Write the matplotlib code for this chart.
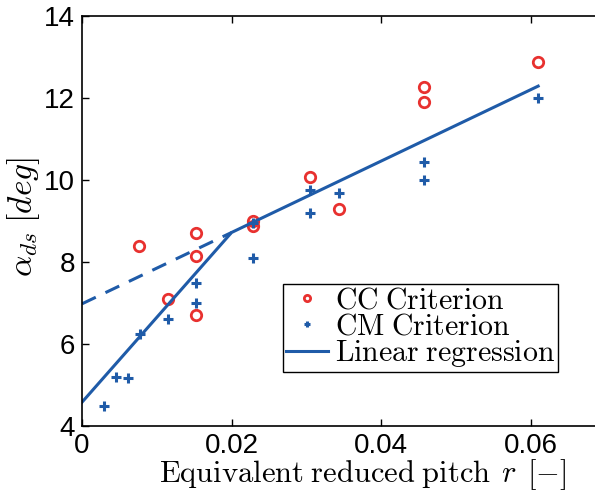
import matplotlib
matplotlib.use("Agg")
import matplotlib.pyplot as plt

plt.rcParams["mathtext.fontset"] = "cm"
plt.rcParams["font.family"] = ["Liberation Sans", "DejaVu Sans"]

# ===== data =====
cc_x = [0.0076, 0.0115, 0.0152, 0.0152, 0.0152, 0.0229, 0.0229,
        0.0305, 0.0343, 0.0457, 0.0457, 0.0610]
cc_y = [8.40, 7.10, 8.70, 8.15, 6.70, 9.01, 8.88,
        10.08, 9.29, 12.26, 11.90, 12.87]

cm_x = [0.0030, 0.0046, 0.0061, 0.0077, 0.0115, 0.0152, 0.0152, 0.0229, 0.0229,
        0.0305, 0.0305, 0.0343, 0.0457, 0.0457, 0.0610]
cm_y = [4.50, 5.20, 5.16, 6.25, 6.60, 7.50, 7.00, 8.10, 8.95,
        9.75, 9.20, 9.69, 10.44, 10.00, 12.00]

reg_x = [0.0, 0.0200, 0.0610]
reg_y = [4.58, 8.72, 12.29]
ext_x = [0.0, 0.0200]
ext_y = [6.98, 8.72]

red = "#e8312f"
blue = "#1f5ba8"

fig = plt.figure(figsize=(5.95, 4.92), dpi=100)
ax = fig.add_axes([82 / 595, 1 - 426 / 492, 1 - 82 / 595, (426 - 16) / 492])

ax.plot(cc_x, cc_y, "o", mfc="none", mec=red, mew=2, ms=7.5,
        label=r"$\mathrm{CC\;Criterion}$")
ax.plot(cm_x, cm_y, "+", color=blue, mew=2.2, ms=7,
        label=r"$\mathrm{CM\;Criterion}$")
ax.plot(reg_x, reg_y, "-", color=blue, lw=2.2,
        label=r"$\mathrm{Linear\;regression}$")
ax.plot(ext_x, ext_y, "--", color=blue, lw=2.2, dashes=(5, 3.5))

ax.set_xlim(0, 0.0686)
ax.set_ylim(4, 14)
ax.set_xticks([0, 0.02, 0.04, 0.06])
ax.set_xticklabels(["0", "0.02", "0.04", "0.06"])
ax.set_yticks([4, 6, 8, 10, 12, 14])
ax.tick_params(direction="in", length=5, width=1, labelsize=20, top=True, pad=5)
ax.spines["right"].set_visible(False)
for s in ["left", "bottom", "top"]:
    ax.spines[s].set_linewidth(1.2)

ax.set_xlabel(r"$\mathrm{Equivalent\;reduced\;pitch}\;\,r\;\,[-]$", fontsize=22)
ax.xaxis.set_label_coords((363 - 82) / (595 - 82), -0.075, transform=ax.transAxes)
ax.xaxis.label.set_va("top")
ax.set_ylabel(r"$\alpha_{ds}\;[deg]$", fontsize=24)
ax.yaxis.set_label_coords(-0.078, 0.51)

leg = ax.legend(loc="lower left", fontsize=21.5, frameon=True, fancybox=False,
                edgecolor="black", framealpha=1, borderpad=0.1, labelspacing=-0.08,
                handlelength=1.4, handletextpad=0.25, markerscale=0.6, borderaxespad=0,
                bbox_to_anchor=((283 - 82) / (595 - 82), (426 - 372) / 410),
                bbox_transform=ax.transAxes)
leg.get_frame().set_linewidth(1.0)

fig.savefig("out.png", dpi=100)
